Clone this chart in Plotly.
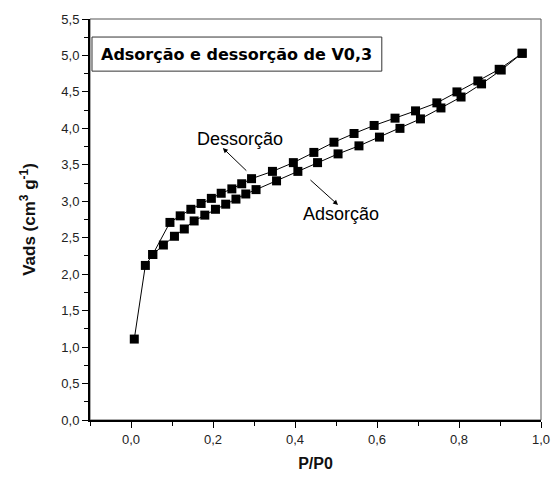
import plotly.graph_objects as go

# Adsorption branch (lower)
ads_x = [0.008, 0.035, 0.053, 0.079, 0.106, 0.130, 0.154, 0.180, 0.206, 0.231, 0.256, 0.280,
         0.305, 0.355, 0.407, 0.455, 0.505, 0.556, 0.606, 0.656, 0.706, 0.756, 0.805, 0.855,
         0.903, 0.954]
ads_y = [1.11, 2.12, 2.27, 2.40, 2.52, 2.62, 2.73, 2.81, 2.89, 2.96, 3.03, 3.10,
         3.16, 3.28, 3.41, 3.53, 3.65, 3.76, 3.88, 4.00, 4.13, 4.28, 4.43, 4.61,
         4.80, 5.03]

# Desorption branch (upper)
des_x = [0.954, 0.898, 0.846, 0.795, 0.746, 0.694, 0.644, 0.593, 0.544, 0.495, 0.446, 0.396,
         0.345, 0.294, 0.270, 0.246, 0.220, 0.196, 0.171, 0.146, 0.120, 0.095, 0.053]
des_y = [5.03, 4.81, 4.65, 4.50, 4.35, 4.24, 4.14, 4.04, 3.93, 3.81, 3.67, 3.53,
         3.41, 3.31, 3.24, 3.17, 3.11, 3.04, 2.97, 2.89, 2.80, 2.71, 2.27]

x_range = [-0.1, 1.0]
y_range = [0.0, 5.5]

title_text = "Adsorção e dessorção de V0,3"
x_title = "<b>P/P0</b>"
y_title = "<b>Vads (cm<sup>3</sup> g<sup>-1</sup>)</b>"

fig = go.Figure()
for xs, ys, name in [(ads_x, ads_y, "Adsorção"), (des_x, des_y, "Dessorção")]:
    fig.add_trace(go.Scatter(
        x=xs, y=ys, mode="lines+markers", name=name,
        line=dict(color="black", width=1),
        marker=dict(symbol="square", size=9, color="black"),
        showlegend=False,
    ))

font_main = "Liberation Sans, Arial, sans-serif"

fig.update_layout(
    width=552, height=480,
    margin=dict(l=90, r=11, t=19, b=60),
    paper_bgcolor="white", plot_bgcolor="white",
    separators=",.",
    font=dict(family=font_main, color="#222", size=13),
    xaxis=dict(
        range=x_range, tick0=0, dtick=0.2, tickformat=".1f",
        showgrid=False, zeroline=False, automargin=False,
        showline=True, linecolor="black", linewidth=2,
        ticks="outside", ticklen=6, tickwidth=1, tickcolor="black",
        ticklabeloverflow="allow",
        minor=dict(tick0=0, dtick=0.1, ticks="outside", ticklen=4, tickcolor="black", showgrid=False),
        title=dict(text=x_title, font=dict(size=16, color="#111", family=font_main), standoff=12),
        tickfont=dict(size=13, color="#222"),
    ),
    yaxis=dict(
        range=y_range, tick0=0, dtick=0.5, tickformat=".1f",
        showgrid=False, zeroline=False, automargin=False,
        showline=True, linecolor="black", linewidth=2,
        ticks="outside", ticklen=6, tickwidth=1, tickcolor="black",
        minor=dict(tick0=0, dtick=0.25, ticks="outside", ticklen=4, tickcolor="black", showgrid=False),
        title=dict(text=y_title, font=dict(size=17, color="#111", family=font_main), standoff=21),
        tickfont=dict(size=13, color="#222"),
    ),
)

# frame (top/right)
fig.add_shape(type="rect", xref="paper", yref="paper", x0=0, x1=1, y0=0, y1=1,
              line=dict(color="#555", width=1), layer="below")

# title box
fig.add_shape(type="rect", xref="paper", yref="paper", x0=0.0044, x1=0.647, y0=0.870, y1=0.955,
              line=dict(color="#333", width=1), fillcolor="white")
fig.add_annotation(xref="paper", yref="paper", x=0.325, y=0.9125, text="<b>" + title_text + "</b>",
                   showarrow=False, xanchor="center", yanchor="middle",
                   font=dict(family="DejaVu Sans, Verdana, sans-serif", size=16, color="black"))

# labels with arrows
fig.add_annotation(x=0.266, y=3.85, text="Dessorção", showarrow=False,
                   font=dict(size=18, color="black", family=font_main))
fig.add_annotation(x=0.224, y=3.73, ax=0.285, ay=3.40, axref="x", ayref="y",
                   text="", showarrow=True, arrowhead=2, arrowsize=1, arrowwidth=1, arrowcolor="black")
fig.add_annotation(x=0.512, y=2.83, text="Adsorção", showarrow=False,
                   font=dict(size=18, color="black", family=font_main))
fig.add_annotation(x=0.505, y=2.95, ax=0.434, ay=3.31, axref="x", ayref="y",
                   text="", showarrow=True, arrowhead=2, arrowsize=1, arrowwidth=1, arrowcolor="black")

fig.write_html("out.html",
               config={"displayModeBar": False},
               post_script="document.body.style.margin='0px';document.body.style.overflow='hidden';")
